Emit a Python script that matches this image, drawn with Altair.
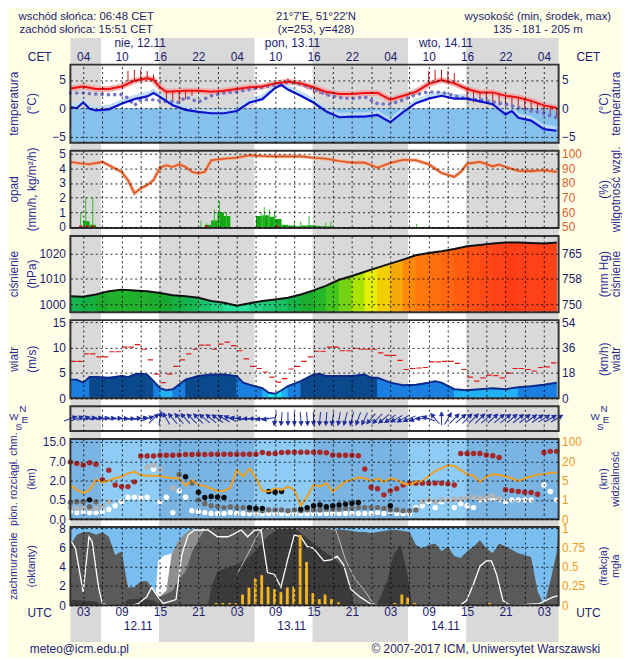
import altair as alt
import pandas as pd

# ------------------------------------------------------------------ data
T_START, T_END = 1.0, 77.3            # hours since 12.11 00 UTC
SUNRISE_UTC, SUNSET_UTC = 5.8, 14.85  # 06:48 CET, 15:51 CET

HEADER_LEFT = ["wschód słońca: 06:48 CET", "zachód słońca: 15:51 CET"]
HEADER_MID = ["21°7'E, 51°22'N", "(x=253, y=428)"]
HEADER_RIGHT = ["wysokość (min, środek, max)", "135 - 181 - 205 m"]
DAY_NAMES = ["nie, 12.11", "pon, 13.11", "wto, 14.11"]
DAY_NAME_HOURS = [11.9, 35.7, 59.7]
DATE_LABELS = ["12.11", "13.11", "14.11"]
DATE_HOURS = [11.6, 35.6, 59.6]
FOOTER_LEFT = "meteo@icm.edu.pl"
FOOTER_RIGHT = "© 2007-2017 ICM, Uniwersytet Warszawski"

TEMP_HOURS = [1, 3, 5, 7, 9, 11, 13, 14, 15, 16, 19, 21, 23, 25, 27, 29, 31, 33, 35, 37,
              39, 41, 43, 45, 47, 49, 51, 53, 55, 57, 59, 61, 63, 65, 67, 69, 71, 73, 75, 77]
TEMP_2M = [3.5, 3.85, 3.4, 3.4, 3.85, 4.85, 5.3, 5.0, 3.7, 2.9, 3.1, 3.1, 2.9, 3.1, 3.4, 3.7, 3.85, 4.4, 4.7, 4.4,
           3.7, 2.9, 2.5, 2.5, 2.7, 2.7, 1.5, 2.2, 2.9, 4.3, 5.0, 4.4, 3.4, 2.8, 2.8, 2.2, 1.9, 1.3, 0.5, 0.05]

DEW_HOURS = [1, 3, 5, 7, 9, 10, 11, 12, 13, 14, 15, 17, 18, 19, 21, 23, 25, 27, 29, 31, 33, 35,
             37, 39, 41, 43, 45, 47, 49, 51, 53, 55, 57, 59, 61, 63, 65, 67, 69, 71, 73, 75, 77]
DEW_POINT = [2.7, 2.7, 2.5, 2.4, 2.4, 1.8, 0.5, 1.5, 1.5, 1.5, 1.3, 1.1, 1.0, 2.0, 1.1, 2.2, 2.7, 2.9, 3.3, 3.7, 4.1, 4.6,
             4.3, 3.4, 2.4, 1.9, 1.7, 2.0, 0.8, 0.7, 1.5, 2.4, 2.9, 2.8, 2.2, 1.6, 1.5, 1.1, 0.7, 0.1, -0.5, -0.9, -1.7]

GROUND_HOURS = [1, 2, 3, 4, 5, 7, 9, 11, 13, 14, 15, 17, 19, 21, 23, 25, 27, 29, 31, 33, 34, 35,
                37, 39, 41, 43, 45, 47, 49, 51, 53, 55, 57, 59, 61, 63, 65, 67, 69, 70, 71, 73, 75, 77]
GROUND_TEMP = [0.2, 0.0, 1.0, -0.1, -0.4, -0.2, 0.8, 1.6, 2.1, 2.7, 2.0, 0.5, -0.3, -0.65, -0.9, -0.9, -0.5, 1.0, 1.6, 3.6, 4.1, 3.3,
               2.2, 1.0, -0.6, -1.6, -1.5, -1.5, -1.2, -2.5, -0.7, 0.9, 1.7, 2.2, 1.7, 1.7, 1.2, 0.7, -1.1, -0.5, -1.7, -2.2, -3.7, -4.0]

SPREAD_HOURS = [10, 11, 12, 13, 14, 16, 17, 18, 19, 20, 35, 36, 37, 38, 39, 40, 41, 57, 58, 59, 60, 61,
                63, 64, 65, 66, 67, 68, 69, 70, 71, 72, 73, 74, 75, 76, 77]
SPREAD_LO = [4.8, 5.0, 5.3, 5.3, 5.0, 1.3, 1.1, 1.0, 1.6, 2.2, 4.7, 4.4, 4.0, 3.4, 2.8, 2.5, 2.3, 4.4, 5.0, 5.0, 4.7, 4.3,
             1.3, 1.0, 1.0, 1.0, 0.5, 0.5, 0.3, 0.1, -0.3, -0.5, -0.8, -1.0, -1.3, -1.6, -1.7]
SPREAD_HI = [6.6, 6.8, 6.8, 6.6, 6.0, 3.1, 3.0, 3.0, 3.1, 3.1, 5.3, 5.0, 4.5, 4.2, 3.8, 3.3, 2.9, 6.6, 6.8, 6.8, 6.6, 6.2,
             3.4, 3.2, 2.8, 2.9, 2.8, 2.6, 2.2, 2.0, 1.9, 1.7, 1.3, 0.9, 0.5, 0.2, 0.1]

HUM_HOURS = [1, 3, 4, 6, 7, 9, 10, 11, 12, 13, 14, 15, 16, 17, 18, 19, 20, 21, 22, 23, 25, 27, 29, 31, 33,
             35, 37, 39, 41, 43, 45, 47, 49, 51, 53, 55, 57, 59, 61, 62, 63, 65, 67, 68, 69, 71, 73, 75, 77]
HUMIDITY = [94.4, 93.2, 92.8, 94.4, 92.1, 87.6, 82.0, 73.0, 76.4, 78.6, 82.0, 90.5, 92.1, 91.0, 92.8, 91.0, 87.6, 86.5,
            87.6, 95.5, 96.6, 97.3, 98.9, 98.4, 98.2, 98.2, 98.2, 97.3, 96.6, 95.0, 93.9, 93.9, 90.5, 93.7, 95.9, 95.5,
            92.8, 86.9, 84.2, 87.6, 93.2, 94.4, 91.4, 92.6, 91.0, 88.3, 88.1, 88.7, 87.6]

RAIN_HOURS = [3, 4, 22, 23, 24, 25, 30, 31, 32, 33, 34, 35, 36, 37, 38, 39, 40, 41]
RAIN = [0.4, 0.15, 0.15, 0.45, 1.0, 0.75, 0.75, 0.8, 0.7, 0.55, 0.15, 0.1, 0.05, 0.1, 0.12, 0.08, 0.05, 0.05]
SPIKE_HOURS = [2.6, 3.4, 4.5, 21.4, 22.3, 23.5, 24.3, 25.4, 30.8, 31.3, 32.1, 32.9, 36.0, 37.0, 38.3, 40.9, 41.7, 55.1]
SPIKE = [1.0, 2.0, 2.0, 0.45, 0.25, 1.2, 1.8, 1.0, 1.0, 1.35, 1.2, 1.1, 0.35, 0.35, 0.75, 0.3, 0.35, 0.2]
MARK_HOURS = [2.6, 3.6, 4.5, 22.3, 33.3]

PRES_HOURS = list(range(1, 78, 2))
PRESSURE = [1003.2, 1003.0, 1003.9, 1005.2, 1005.8, 1005.5, 1005.2, 1004.5, 1003.6, 1003.2,
            1002.6, 1001.3, 1000.6, 999.4, 1000.4, 1001.3, 1001.9, 1002.6, 1003.9, 1005.5,
            1007.4, 1009.7, 1011.2, 1012.9, 1014.5, 1016.1, 1017.7, 1019.4, 1020.3, 1021.0,
            1021.9, 1023.0, 1023.5, 1024.1, 1024.5, 1024.5, 1024.3, 1024.1, 1024.5]

WIND_HOURS = [1, 2, 3, 4, 5, 7, 9, 10, 11, 12, 13, 14, 15, 16, 17, 19, 21, 23, 25, 27, 28, 29, 31, 32, 33, 34,
              35, 37, 39, 40, 41, 43, 45, 47, 48, 49, 51, 53, 55, 57, 58, 59, 61, 63, 65, 67, 69, 71, 73, 75, 77]
WIND = [3.7, 3.7, 3.1, 4.2, 4.2, 4.05, 4.4, 4.2, 4.7, 4.9, 4.7, 3.4, 2.0, 1.6, 1.8, 3.7, 4.4, 4.7, 4.7, 4.4, 3.1, 2.7,
        2.0, 1.1, 0.9, 1.6, 2.4, 3.4, 4.7, 4.8, 4.4, 4.4, 4.4, 4.7, 4.05, 4.05, 3.1, 2.6, 2.7, 3.1, 3.4, 3.1, 1.8, 1.6,
        1.8, 2.0, 1.8, 2.2, 2.4, 2.7, 3.1]
GUST_HOURS = list(range(1, 78))
GUST = [7.3, 7.3, 8.8, 8.8, 8.2, 8.2, 9.2, 9.2, 10.1, 10.1, 10.6, 9.7, 7.6, 4.8, 3.1, 4.8, 6.3, 7.6, 8.8, 9.7,
        10.5, 10.5, 9.7, 10.7, 11.1, 10.4, 9.4, 7.8, 6.3, 5.9, 5.2, 4.2, 3.2, 3.9, 5.8, 6.3, 7.3, 8.2, 9.3, 9.3,
        10.1, 10.1, 9.4, 9.4, 9.9, 9.7, 9.7, 9.7, 9.0, 8.5, 8.5, 7.5, 5.7, 5.9, 6.0, 6.1, 7.2, 7.2, 7.3, 7.3,
        6.9, 5.7, 4.2, 3.4, 4.05, 4.6, 4.5, 4.05, 5.0, 5.9, 5.9, 5.7, 5.4, 6.1, 6.2, 7.0, 7.0]
WDIR_HOURS = list(range(1, 78))
WIND_FROM = [250, 250, 255, 260, 260, 262, 265, 265, 268, 270, 265, 260, 250, 225, 190, 150,
             140, 140, 138, 135, 135, 130, 130, 125, 120, 115, 100, 95, 90, 90, 85, 80,
             10, 5, 0, 0, 355, 355, 0, 5, 5, 10, 10, 15, 15, 20, 25,
             40, 45, 50, 55, 60, 60, 65, 70, 90, 110, 140, 180, 210, 225, 230,
             225, 225, 225, 228, 228, 230, 230, 230, 232, 232, 235, 235, 238, 240, 240]

HOURLY = list(range(1, 78))
HI_CLOUD = [6.8, 6.4, 6.0, 6.6, 6.2, 2.2, 4.7, 1.66, 1.53, 1.53, 1.9, 9.2, 9.2, 9.2, 9.5, 9.5, 9.5, 9.6, 9.8, 9.8,
            9.9, 9.8, 9.9, 9.9, 9.9, 9.9, 9.9, 9.9, 9.9, 9.9, 10.6, 10.2, 10.2, 10.6, 10.7, 10.7, 10.7, 10.7, 10.7, 10.7,
            10.5, 9.6, 9.5, 9.5, 9.5, 9.3, 4.97, 1.48, 1.36, 0.89, 1.2, 1.36, 1.66, 1.8, 1.8, 1.8, 1.8, 1.8, 1.8, 1.75,
            1.66, 10.2, 10.2, 10.2, 10.2, 9.6, 9.3, 8.6, 1.28, 1.22, 1.15, 1.1, 1.07, 0.94, 10.6, 11.1, 11.1]
WHITE_BASE = [0.19, 0.17, 0.19, 0.17, 0.17, 0.19, 0.25, 0.35, 0.45, 0.7, 0.7, 0.65, 0.7, 4.9, 0.45, 0.7, 0.17, 1.2, 0.7, 0.22,
              0.2, 0.17, 0.15, 0.15, 0.15, 0.17, 0.15, 0.15, 0.15, 0.15, 0.15, 0.15, 0.15, 0.15, 0.15, 0.15, 0.15, 0.15, 0.15, 0.15,
              0.15, 0.15, 0.15, 0.15, 0.15, 0.15, 0.15, 0.15, 0.17, 0.15, 0.2, 0.15, 0.15, 0.15, 0.3, 0.35, 0.45, 0.3, 0.45, 0.5,
              0.3, 0.4, 0.35, 0.3, 0.5, 0.55, 0.6, 0.55, 0.45, 0.5, 0.5, 0.5, 0.5, None, 1.66, 1.15, 0.5]
LIGHT_HOURS = [1, 2, 3, 4, 5, 6, 7, 13, 14, 15, 17, 56, 57, 58, 59, 60, 61, 62, 63, 64, 65, 66, 67, 68]
LIGHT_BASE = [0.3, 0.28, 0.3, 0.28, 0.28, 0.35, 0.45, 5.5, 6.0, 4.8, 1.4, 0.45, 0.5, 0.45, 0.5, 0.5, 0.55, 0.6,
              0.65, 0.7, 0.65, 0.75, 0.8, 0.6]
MID_HOURS = [1, 2, 3, 4, 5, 18, 20] + list(range(21, 56))
MID_BASE = [0.43, 0.45, 0.45, 0.32, 0.45, 3.6, 1.8,
            0.5, 0.4, 0.35, 0.33, 0.3, 0.32, 0.3, 0.3, 0.24, 0.24, 0.22, 0.24, 0.24, 0.24, 0.22, 0.24, 0.22, 0.24,
            0.24, 0.24, 0.26, 0.26, 0.26, 0.28, 0.28, 0.3, 0.3, 0.3, 0.3, 0.28, 0.24, 0.24, 0.22, 0.22, 0.24]
BLACK_HOURS = [4, 19, 21, 22, 23, 24, 25, 29, 30, 31, 32, 33, 34, 37, 38, 39, 40, 41, 42, 43, 44, 45, 46, 51]
BLACK_BASE = [0.5, 3.0, 1.1, 0.68, 0.76, 0.72, 0.68, 0.3, 0.28, 0.28, 1.15, 1.1, 1.15, 0.26, 0.3, 0.35, 0.37,
              0.32, 0.35, 0.37, 0.39, 0.41, 0.43, 0.35]
VISIBILITY = [4.1, 3.07, 2.38, 3.07, 5.5, 4.6, 5.0, 6.8, 8.1, 10.6, 11.9, 9.3, 8.8, 8.8, 8.6, 7.5, 6.8, 6.8, 3.97, 5.5,
              4.1, 3.9, 3.28, 2.86, 2.86, 3.55, 13.1, 8.1, 14.4, 6.8, 2.86, 2.72, 3.4, 3.07, 3.76, 3.07, 0.7, 1.69, 4.1, 3.76,
              4.45, 2.72, 3.76, 4.8, 5.5, 7.5, 6.8, 4.9, 6.8, 4.66, 6.8, 5.5, 4.45, 4.1, 4.8, 4.9, 8.6, 12.4, 14.4, 16.9,
              16.4, 13.1, 9.8, 8.8, 4.66, 8.1, 9.8, 9.3, 8.1, 6.8, 4.9, 6.8, 8.1, 9.8, 9.8, 11.1, 11.1]

CL_WHITE_HOURS = [14.2, 14.7, 15.5, 16.5, 17.5, 18.5, 19.5]
CL_WHITE = [0, 4.6, 5.1, 5.3, 5.5, 5.6, 5.8]
CL_LIGHT_HOURS = [14.8, 16, 16.8, 17.8, 18.9, 19.9, 21, 23, 24]
CL_LIGHT = [0.85, 1.5, 5.2, 6.6, 7.4, 7.9, 8, 8, 7.8]
CL_MAIN_HOURS = [1, 2, 3, 4, 5, 6, 7, 8, 9, 10, 11, 12, 13, 14, 15, 16, 17, 18, 19, 20, 22, 24, 26, 28, 30, 32,
                 34, 36, 38, 40, 42, 44, 46, 47, 48, 49, 50, 51, 52, 54, 55, 56, 57, 58, 59, 60, 61, 62, 63, 64,
                 65, 66, 67, 68, 69, 70, 71, 72, 73, 74, 75, 76, 77, 77.3]
CL_MAIN = [6.25, 7.3, 7.6, 7.6, 7.3, 7.6, 7.1, 5.2, 5.6, 1.86, 1.86, 2.5, 2.5, 1.5, 0.85, 1.2, 1.5, 2.7, 3.5, 5.5,
           7.9, 8, 8, 8, 8, 8, 8, 8, 8, 8, 7.9, 7.8, 7.6, 7.6, 7.5, 7.6, 7.7, 7.8, 7.8, 7.6,
           6.25, 5.9, 6.25, 6.4, 5.6, 6.1, 5.1, 4.9, 5.6, 6.1, 6.75, 5.9, 5.4, 6.4, 6.1, 5.75, 5.4, 5.2, 5.0, 1.5,
           0, 2.5, 5.5, 8]
CL_DARK_HOURS = [1, 3, 5, 6, 9, 10, 12, 14, 15, 22.5, 23, 24, 25.5, 27, 28.7, 30.3, 31.8, 33.5, 36, 38.6, 40.6,
                 42.2, 43.7, 44.8, 45.3, 48.9, 50.5, 51.5, 52.6, 53.6, 54.4]
CL_DARK = [0.6, 0.5, 0.4, 0, 0, 0.6, 0.7, 0.5, 0, 0, 1.86, 3.5, 3.9, 4.2, 4.9, 5.9, 7.1, 8, 8, 6.6, 5.6,
           4.9, 3.9, 1.86, 0, 0, 2.5, 5.2, 6.25, 3.5, 0]
WL_HOURS = [1, 1.8, 3, 3.9, 4.4, 5.4, 6, 7, 10.6, 11.6, 12.9, 13.7, 14.7, 15.5, 17.5, 18.4, 19.4, 20.4, 22.5, 24,
            25.6, 26.6, 27.7, 28.7, 29.8, 30.8, 31.8, 32.9, 33.9, 34.9, 36, 37, 38, 39, 40.6, 41.7, 42.7, 43.7,
            44.8, 46.3, 47.9, 49.4, 61.9, 62.9, 64, 65, 66, 66.8, 67.6, 68.6, 69.7, 74.3, 76.4, 77.3]
WL = [6.75, 5.9, 1.35, 7.1, 6.6, 1.86, 0.17, 0, 0, 0.17, 0.85, 1.86, 0.85, 0.2, 0.6, 5.2, 7.3, 7.8, 7.8, 7.1,
      7.1, 7.4, 7.8, 7.1, 7.8, 7.8, 3.4, 3.2, 1.86, 4.6, 7.3, 7.1, 6.1, 5.9, 4.6, 4.7, 5.1, 4.2,
      1.7, 0.85, 0.17, 0, 0, 0.5, 2.2, 4.05, 4.6, 4.6, 3.2, 0.5, 0, 0.17, 0.85, 1.0]
LG_HOURS = [27, 28.5, 30, 31, 41, 42.5, 44, 45.5, 47, 48.5]
LG = [3.2, 5.0, 7.0, 8.0, 8.0, 7.8, 4.7, 2.7, 1.5, 0]
FOG_HOURS = [23.8, 24.8, 25.9, 26.9, 27.9, 28.9, 29.9, 30.9, 31.9, 32.9, 33.9, 34.9, 35.9, 36.9, 37.9, 38.9,
             39.9, 40.8, 41.8, 42.9, 51.7, 52.8, 53.7, 54.8, 66.5]
FOG = [0.03, 0.03, 0.03, 0.03, 0.14, 0.23, 0.35, 0.39, 0.24, 0.21, 0.17, 0.23, 0.24, 0.91, 0.56, 0.16,
       0.08, 0.14, 0.08, 0.04, 0.03, 0.14, 0.1, 0.03, 0.03]

# ------------------------------------------------------------------ style
FONT = "Liberation Sans"
NAVY = "#1c1c6c"
TBLUE = "#2a2a96"
BG = "#ffffe8"
NIGHT = "#d9d9d9"
DAY = "#ffffff"
W = 493
XS = alt.Scale(domain=[T_START, T_END], nice=False, zero=False)
GRID_T = list(range(3, 78, 3))
ONE = pd.DataFrame({"d": [0]})
CET_EXPR = "(datum.value - 3) % 6 == 0 ? (((datum.value + 1) % 24) < 10 ? '0' : '') + ((datum.value + 1) % 24) : ''"
UTC_EXPR = "(datum.value - 3) % 6 == 0 ? ((datum.value % 24) < 10 ? '0' : '') + (datum.value % 24) : ''"


def x_axis(orient="bottom", expr=None, pad=1):
    kw = dict(values=GRID_T, grid=True, gridColor="#000000", gridDash=[2, 3], gridWidth=1, gridOpacity=0.85,
              ticks=False, tickSize=0, domain=False, title=None, zindex=1, orient=orient, labelFlush=False)
    if expr:
        kw.update(labels=True, labelExpr=expr, labelFont=FONT, labelFontSize=12, labelColor=NAVY,
                  labelPadding=pad, labelOverlap=False)
    else:
        kw.update(labels=False)
    return alt.Axis(**kw)


def y_axis(values, orient="left", fmt="d", expr=None, grid=True, color=NAVY):
    kw = dict(values=values, orient=orient, grid=grid, ticks=False, tickSize=0, domain=False, title=None,
              labelFont=FONT, labelFontSize=12, labelColor=color, labelPadding=5 if orient == "left" else 3,
              zindex=1, labelFlush=False, labelOverlap=False, format=fmt)
    if grid:
        kw.update(gridColor="#000000", gridDash=[2, 3], gridOpacity=0.85, gridWidth=1)
    if expr:
        kw.update(labelExpr=expr)
    return alt.Axis(**kw)


def make_bands():
    rows, start = [], T_START
    for k in range(3):
        rise, sset = SUNRISE_UTC + 24 * k, SUNSET_UTC + 24 * k
        rows.append({"t0": start, "t1": rise, "kind": "noc"})
        rows.append({"t0": rise, "t1": sset, "kind": "dzien"})
        start = sset
    rows.append({"t0": start, "t1": T_END, "kind": "noc"})
    return pd.DataFrame(rows)


BANDS = make_bands()


def band_layer(H, top, bottom, xax, night=NIGHT, day=DAY):
    return alt.Chart(BANDS).mark_rect().encode(
        x=alt.X("t0", type="quantitative", scale=XS, axis=xax), x2=alt.X2("t1"),
        y=alt.value(-top), y2=alt.value(H + bottom),
        fill=alt.condition("datum.kind == 'noc'", alt.value(night), alt.value(day)))


def Xf(field, xax):
    return alt.X(field, type="quantitative", scale=XS, axis=xax)


def Yf(field, scale, axis):
    return alt.Y(field, type="quantitative", scale=scale, axis=axis)


def txt(text, x, y, angle=0, align="center", size=12, color=NAVY):
    return alt.Chart(ONE).mark_text(text=text, angle=angle, align=align, baseline="middle", font=FONT,
                                    fontSize=size, color=color).encode(x=alt.value(x), y=alt.value(y))


def titles(H, left, right, size=12):
    out = [txt(left[0], -57, H / 2, 270, size=size, color=TBLUE),
           txt(left[1], -39, H / 2, 270, size=size, color=TBLUE)]
    if right:
        out += [txt(right[0], W + 46, H / 2, 270, size=size, color=TBLUE),
                txt(right[1], W + 58, H / 2, 270, size=size, color=TBLUE)]
    return out


def frame(H):
    return alt.Chart(ONE).mark_rect(fillOpacity=0, stroke="#333333", strokeWidth=2).encode(
        x=alt.value(0), x2=alt.value(W), y=alt.value(0), y2=alt.value(H))


def seg_df(hours, vals):
    rows = []
    for i in range(len(hours) - 1):
        m = (vals[i] + vals[i + 1]) / 2.0
        rows.append({"seg": i, "t": hours[i], "v": vals[i], "m": m})
        rows.append({"seg": i, "t": hours[i + 1], "v": vals[i + 1], "m": m})
    return pd.DataFrame(rows)


def df(h, v, name="v"):
    return pd.DataFrame({"t": h, name: v}).dropna()


# ------------------------------------------------------------------ temperature
H_T = 79
ys_t = alt.Scale(domain=[-6.14, 7.72], nice=False, zero=False)
axl_t = y_axis([-5, 0, 5])
axr_t = y_axis([-5, 0, 5], orient="right", grid=False)
xax_t = x_axis("top", CET_EXPR, pad=1)
t_df = df(TEMP_HOURS, TEMP_2M)
g_df = df(GROUND_HOURS, GROUND_TEMP)
d_df = df(DEW_HOURS, DEW_POINT)
s_df = pd.DataFrame({"t": SPREAD_HOURS, "lo": SPREAD_LO, "hi": SPREAD_HI})
dn_df = pd.DataFrame({"t": DAY_NAME_HOURS, "label": DAY_NAMES})

temp_left = alt.layer(
    band_layer(H_T, 27, 4.5, xax_t),
    alt.Chart(ONE).mark_rect(color="#86c1ee").encode(
        x=alt.value(0), x2=alt.value(W),
        y=alt.Y(datum=0, type="quantitative", scale=ys_t, axis=axl_t), y2=alt.value(H_T)),
    alt.Chart(g_df).transform_calculate(hi="datum.v + 0.8").mark_area(color="#bddcf4", opacity=0.9).encode(
        x=Xf("t", xax_t), y=Yf("v", ys_t, axl_t), y2=alt.Y2("hi")),
    alt.Chart(t_df).mark_line(color="#f4a4a4", strokeWidth=6, opacity=0.85).encode(
        x=Xf("t", xax_t), y=Yf("v", ys_t, axl_t)),
    alt.Chart(s_df).mark_rule(color="#c81010", strokeWidth=1).encode(
        x=Xf("t", xax_t), y=Yf("lo", ys_t, axl_t), y2=alt.Y2("hi")),
    alt.Chart(d_df).mark_line(color="#7474c4", strokeWidth=3.6, strokeDash=[0.1, 6.3], strokeCap="round").encode(
        x=Xf("t", xax_t), y=Yf("v", ys_t, axl_t)),
    alt.Chart(g_df).mark_line(color="#0c12d0", strokeWidth=2.2).encode(
        x=Xf("t", xax_t), y=Yf("v", ys_t, axl_t)),
    alt.Chart(t_df).mark_line(color="#ee1010", strokeWidth=2).encode(
        x=Xf("t", xax_t), y=Yf("v", ys_t, axl_t)),
    alt.Chart(dn_df).mark_text(font=FONT, fontSize=12, color=NAVY, baseline="middle").encode(
        x=Xf("t", xax_t), y=alt.value(-21.5), text="label:N"),
    txt(HEADER_LEFT[0], 16, -48, size=11.5), txt(HEADER_LEFT[1], 16, -35, size=11.5),
    txt(HEADER_MID[0], 248, -48, size=11.5), txt(HEADER_MID[1], 248, -35, size=11.5),
    txt(HEADER_RIGHT[0], 472, -48, size=11.5), txt(HEADER_RIGHT[1], 472, -35, size=11.5),
    txt("CET", -31, -8), txt("CET", W + 30, -8),
    *titles(H_T, ["temperatura", "(°C)"], ["(°C)", "temperatura"]),
)
temp_right = alt.layer(
    alt.Chart(t_df).mark_line(opacity=0).encode(x=Xf("t", xax_t), y=Yf("v", ys_t, axr_t)),
    frame(H_T),
)
temp = alt.layer(temp_left, temp_right).resolve_scale(y="independent").properties(width=W, height=H_T)

# ------------------------------------------------------------------ precipitation / humidity
H_P = 78
ys_p = alt.Scale(domain=[-0.07, 5.2], nice=False, zero=False)
ys_h = alt.Scale(domain=[49.3, 102.0], nice=False, zero=False)
axl_p = y_axis([0, 1, 2, 3, 4, 5])
axr_p = y_axis([50, 60, 70, 80, 90, 100], orient="right", grid=False, color="#e0602c")
xax = x_axis()
r_df = pd.DataFrame({"t": RAIN_HOURS, "v": RAIN})
sp_df = pd.DataFrame({"t": SPIKE_HOURS, "v": SPIKE})
mk_df = pd.DataFrame({"t": MARK_HOURS, "v": [0.0] * len(MARK_HOURS)})
h_df = df(HUM_HOURS, HUMIDITY)

precip_left = alt.layer(
    band_layer(H_P, 4.5, 4.5, xax),
    alt.Chart(r_df).transform_calculate(t1="datum.t + 1").mark_rect(color="#14a614").encode(
        x=Xf("t", xax), x2=alt.X2("t1"), y=Yf("v", ys_p, axl_p), y2=alt.datum(0)),
    alt.Chart(sp_df).mark_rule(color="#2cc42c", strokeWidth=1).encode(
        x=Xf("t", xax), y=Yf("v", ys_p, axl_p), y2=alt.datum(0)),
    alt.Chart(mk_df).mark_circle(color="#c01818", size=14, opacity=1).encode(
        x=Xf("t", xax), y=Yf("v", ys_p, axl_p)),
    *titles(H_P, ["opad", "(mm/h, kg/m²/h)"], ["(%)", "wilgotność wzgl."]),
)
precip_right = alt.layer(
    alt.Chart(h_df).mark_line(color="#f4b090", strokeWidth=3.6).encode(x=Xf("t", xax), y=Yf("v", ys_h, axr_p)),
    alt.Chart(h_df).mark_line(color="#dd5522", strokeWidth=1.6).encode(x=Xf("t", xax), y=Yf("v", ys_h, axr_p)),
    frame(H_P),
)
precip = alt.layer(precip_left, precip_right).resolve_scale(y="independent").properties(width=W, height=H_P)

# ------------------------------------------------------------------ pressure
H_PR = 77
ys_pr = alt.Scale(domain=[996.86, 1027.06], nice=False, zero=False)
axl_pr = y_axis([1000, 1010, 1020])
axr_pr = y_axis([1000, 1010, 1020], orient="right", grid=False, expr="format(datum.value * 0.750062, 'd')")
p_df = df(PRES_HOURS, PRESSURE)
p_seg = seg_df(PRES_HOURS, PRESSURE)
p_col = alt.Scale(domain=[999, 1001.5, 1004, 1008, 1011, 1014, 1016.5, 1019, 1022],
                  range=["#30f0b0", "#20c878", "#18a830", "#30c020", "#80d810", "#f0f010", "#f0b010",
                         "#ff8010", "#ff6010"])

pres_left = alt.layer(
    band_layer(H_PR, 4.5, 4.5, xax),
    alt.Chart(p_seg).mark_area(strokeWidth=0.8, interpolate="linear").encode(
        x=Xf("t", xax), y=alt.Y("v", type="quantitative", scale=ys_pr, axis=axl_pr, stack=None),
        y2=alt.value(H_PR), detail="seg:N",
        fill=alt.Fill("m:Q", scale=p_col, legend=None), stroke=alt.Stroke("m:Q", scale=p_col, legend=None)),
    alt.Chart(p_df).mark_line(color="#111111", strokeWidth=2).encode(x=Xf("t", xax), y=Yf("v", ys_pr, axl_pr)),
    *titles(H_PR, ["ciśnienie", "(hPa)"], ["(mm Hg)", "ciśnienie"]),
)
pres_right = alt.layer(
    alt.Chart(p_df).mark_line(opacity=0).encode(x=Xf("t", xax), y=Yf("v", ys_pr, axr_pr)),
    frame(H_PR),
)
pres = alt.layer(pres_left, pres_right).resolve_scale(y="independent").properties(width=W, height=H_PR)

# ------------------------------------------------------------------ wind
H_W = 79
ys_w = alt.Scale(domain=[0, 15.45], nice=False, zero=False)
axl_w = y_axis([0, 5, 10, 15])
axr_w = y_axis([0, 5, 10, 15], orient="right", grid=False, expr="format(datum.value * 3.6, 'd')")
w_df = df(WIND_HOURS, WIND)
w_seg = seg_df(WIND_HOURS, WIND)
w_col = alt.Scale(type="threshold", domain=[1.5, 2.3, 3.9], range=["#16e4fa", "#22b2f4", "#1a7fe0", "#0a4a8c"])
gu_df = pd.DataFrame({"t": GUST_HOURS, "v": GUST})

wind_left = alt.layer(
    band_layer(H_W, 4.5, 4.5, xax),
    alt.Chart(w_seg).mark_area(strokeWidth=0.8, interpolate="linear").encode(
        x=Xf("t", xax), y=alt.Y("v", type="quantitative", scale=ys_w, axis=axl_w, stack=None),
        y2=alt.value(H_W), detail="seg:N",
        fill=alt.Fill("m:Q", scale=w_col, legend=None), stroke=alt.Stroke("m:Q", scale=w_col, legend=None)),
    alt.Chart(w_df).mark_line(color="#0b2a8e", strokeWidth=2).encode(x=Xf("t", xax), y=Yf("v", ys_w, axl_w)),
    alt.Chart(gu_df).transform_calculate(a="datum.t + 0.08", b="datum.t + 0.92").mark_rule(
        color="#e01818", strokeWidth=1.2, clip=True).encode(
        x=Xf("a", xax), x2=alt.X2("b"), y=Yf("v", ys_w, axl_w)),
    *titles(H_W, ["wiatr", "(m/s)"], ["(km/h)", "wiatr"]),
)
wind_right = alt.layer(
    alt.Chart(w_df).mark_line(opacity=0).encode(x=Xf("t", xax), y=Yf("v", ys_w, axr_w)),
    frame(H_W),
)
wind = alt.layer(wind_left, wind_right).resolve_scale(y="independent").properties(width=W, height=H_W)

# ------------------------------------------------------------------ wind direction
H_D = 25
ARROW = "M0,1L0,-0.5M-0.28,-0.45L0,-1L0.28,-0.45Z"
wd_df = pd.DataFrame({"t": WDIR_HOURS, "a": [(d + 180) % 360 for d in WIND_FROM]})
wdir = alt.layer(
    band_layer(H_D, 4.5, 4.5, xax),
    alt.Chart(wd_df).mark_point(shape=ARROW, size=180, filled=True, fill="#1f2e9e", stroke="#1f2e9e",
                                strokeWidth=1.0, opacity=1).encode(
        x=Xf("t", xax), y=alt.value(H_D / 2), angle=alt.Angle("a:Q", scale=None)),
    txt("N", -48, 3, size=10, color=TBLUE), txt("W", -57, 11, size=10, color=TBLUE),
    txt("E", -46, 14, size=10, color=TBLUE), txt("S", -52, 21, size=10, color=TBLUE),
    txt("N", W + 46, 3, size=10, color=TBLUE), txt("W", W + 37, 11, size=10, color=TBLUE),
    txt("E", W + 48, 14, size=10, color=TBLUE), txt("S", W + 42, 21, size=10, color=TBLUE),
    frame(H_D),
).properties(width=W, height=H_D)

# ------------------------------------------------------------------ cloud base / visibility
H_V = 81
ys_v = alt.Scale(type="linear", domain=[0, 0.5, 2, 7, 15], range=[81, 61.5, 42, 22.5, 3], nice=False, zero=False)
ys_vis = alt.Scale(type="linear", domain=[0, 1, 5, 20, 100], range=[81, 61.5, 42, 22.5, 3], nice=False, zero=False)
axl_v = y_axis([0, 0.5, 2, 7, 15], fmt=".1f")
axr_v = y_axis([0, 1, 5, 20, 100], orient="right", grid=False, color="#ec9a28")


def dots(h, v, color):
    return alt.Chart(df(h, v)).mark_circle(color=color, size=30, opacity=1).encode(
        x=Xf("t", xax), y=Yf("v", ys_v, axl_v))


vis_left = alt.layer(
    band_layer(H_V, 4.5, 4.5, xax),
    band_layer(H_V, 0, 0, xax, night="#7ab4e2", day="#8ecbf5"),
    dots(HOURLY, WHITE_BASE, "#ffffff"),
    dots(LIGHT_HOURS, LIGHT_BASE, "#b4b4b4"),
    dots(MID_HOURS, MID_BASE, "#6a6a6a"),
    dots(BLACK_HOURS, BLACK_BASE, "#0c0c0c"),
    dots(HOURLY, HI_CLOUD, "#a62828"),
    *titles(H_V, ["pion. rozciągł. chm.", "(km)"], ["(km)", "widzialność"], size=11),
)
vis_right = alt.layer(
    alt.Chart(df(HOURLY, VISIBILITY)).mark_line(color="#f0a020", strokeWidth=2).encode(
        x=Xf("t", xax), y=Yf("v", ys_vis, axr_v)),
    frame(H_V),
)
vis = alt.layer(vis_left, vis_right).resolve_scale(y="independent").properties(width=W, height=H_V)

# ------------------------------------------------------------------ cloudiness / fog
H_C = 79
ys_c = alt.Scale(domain=[0, 8.1], nice=False, zero=False)
ys_f = alt.Scale(domain=[0, 8.1 / 8], nice=False, zero=False)
axl_c = y_axis([0, 2, 4, 6, 8])
axr_c = y_axis([0, 0.25, 0.5, 0.75, 1], orient="right", grid=False, color="#ec9a28", fmt=".2~f")
xax_c = x_axis("bottom", UTC_EXPR, pad=1.5)
dt_df = pd.DataFrame({"t": DATE_HOURS, "label": DATE_LABELS})


def cl_area(h, v, color):
    return alt.Chart(df(h, v)).mark_area(color=color, opacity=1, interpolate="linear").encode(
        x=Xf("t", xax_c), y=alt.Y("v", type="quantitative", scale=ys_c, axis=axl_c, stack=None),
        y2=alt.value(H_C))


cloud_left = alt.layer(
    band_layer(H_C, 4.5, 37, xax_c),
    alt.Chart(ONE).mark_rect(color="#7abef0").encode(
        x=alt.value(0), x2=alt.value(W), y=alt.value(0), y2=alt.value(H_C)),
    cl_area(CL_WHITE_HOURS, CL_WHITE, "#ffffff"),
    cl_area(CL_LIGHT_HOURS, CL_LIGHT, "#8e8e8e"),
    cl_area(CL_MAIN_HOURS, CL_MAIN, "#5a5a5a"),
    cl_area(CL_DARK_HOURS, CL_DARK, "#3a3a3a"),
    alt.Chart(df(LG_HOURS, LG)).mark_line(color="#bdbdbd", strokeWidth=1).encode(
        x=Xf("t", xax_c), y=Yf("v", ys_c, axl_c)),
    alt.Chart(df(WL_HOURS, WL)).mark_line(color="#ffffff", strokeWidth=1.3).encode(
        x=Xf("t", xax_c), y=Yf("v", ys_c, axl_c)),
    alt.Chart(dt_df).mark_text(font=FONT, fontSize=12, color=NAVY, baseline="middle").encode(
        x=Xf("t", xax_c), y=alt.value(H_C + 21), text="label:N"),
    txt("UTC", -31, H_C + 8), txt("UTC", W + 30, H_C + 8),
    txt(FOOTER_LEFT, -41, H_C + 44, align="left", color="#22227a"),
    txt(FOOTER_RIGHT, 535, H_C + 44, align="right", color="#22227a"),
    *titles(H_C, ["zachmurzenie", "(oktanty)"], ["(frakcja)", "mgła"], size=11),
)
cloud_right = alt.layer(
    alt.Chart(pd.DataFrame({"t": FOG_HOURS, "v": FOG})).transform_calculate(
        a="datum.t - 0.22", b="datum.t + 0.22").mark_rect(color="#f6b51e").encode(
        x=Xf("a", xax_c), x2=alt.X2("b"), y=Yf("v", ys_f, axr_c), y2=alt.datum(0)),
    frame(H_C),
)
cloud = alt.layer(cloud_left, cloud_right).resolve_scale(y="independent").properties(width=W, height=H_C)

# ------------------------------------------------------------------ assemble
chart = alt.vconcat(temp, precip, pres, wind, wdir, vis, cloud, spacing=8, bounds="flush").resolve_scale(
    fill="independent", stroke="independent", color="independent"
).properties(background=BG, padding={"left": 0, "right": 0, "top": 0, "bottom": 0}).configure_view(strokeWidth=0)

chart.save("out.html", embed_options={"renderer": "svg", "actions": False})
